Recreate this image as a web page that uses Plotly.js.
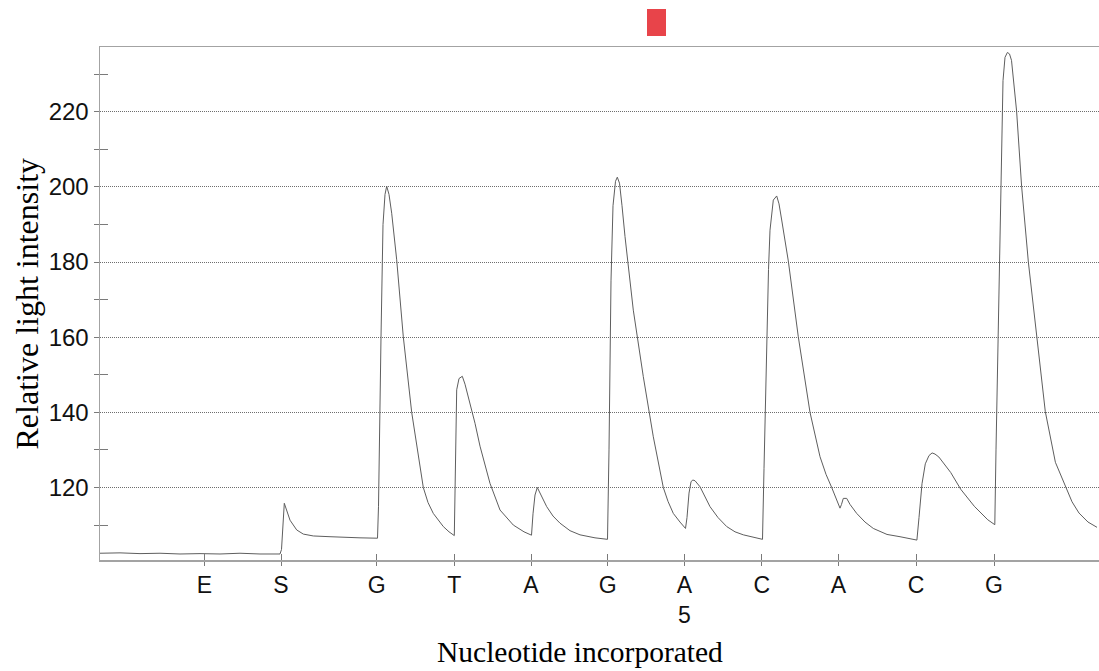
<!DOCTYPE html>
<html>
<head>
<meta charset="utf-8">
<script src="https://cdn.plot.ly/plotly-3.0.1.min.js"></script>
<style>
  html, body { margin: 0; padding: 0; background: #ffffff; }
  #chart { width: 1099px; height: 671px; }
</style>
</head>
<body>
<div id="chart"></div>
<script>
// Pyrogram: light signal recorded over the run, one peak per dispensed nucleotide.

// Run time (arbitrary units) of each recorded sample
const runTime = [
  0, 20, 40, 60, 80, 100, 120, 140, 160, 180,
  181.5, 184.3, 190, 196.7, 203.3, 213.3, 230, 243.3, 260, 277.5,
  278.5, 281, 283, 285, 286.7, 289, 291.7, 296.7, 303.3, 311.7, 318.3, 323.3, 328, 333.3, 343.3, 349, 354.3,
  355.5, 356.7, 359, 362.3, 365, 368.3, 375, 380, 390, 400, 413.3, 424, 431.5,
  433, 435, 437.3, 440, 446.7, 453, 460, 470, 480, 495, 507.5,
  509, 511, 513, 515.5, 517.3, 519.5, 522, 525, 533.3, 543.3, 553.3, 563.3, 568, 573.3, 580, 585.5,
  587, 589, 591, 592.7, 595, 600, 610, 618, 626.7, 635, 643.3, 653, 662.5,
  664, 666.7, 668.5, 670, 673.3, 676.7, 679, 681.7, 688.3, 698.3, 710, 720, 726, 731.7, 736, 740, 741.5, 743.3, 746.7, 750, 756.7, 765, 773.3, 787, 800, 810, 816.9,
  819, 822, 825.3, 829, 832.1, 835, 838.9, 844, 850.7, 860.8, 874.3, 887.8, 894.8,
  896, 898, 900, 903, 905, 907.4, 909.5, 911.5, 916.6, 921.6, 928.4, 936.8, 945.3, 955.4, 965.5, 972, 979, 988, 997
];

// Relative light intensity at each sample
const intensity = [
  102.5, 102.6, 102.4, 102.5, 102.3, 102.4, 102.3, 102.5, 102.3, 102.3,
  103.5, 115.8, 111.3, 108.7, 107.6, 107.1, 106.9, 106.7, 106.6, 106.5,
  115, 160, 190, 198, 200.2, 198, 193, 180.6, 160.1, 140, 128.2, 120, 116, 113.1, 109.6, 108.2, 107.2,
  125, 146, 149, 149.6, 147.5, 144.2, 137.1, 131, 121.1, 114, 110, 108.2, 107.3,
  113, 118, 120, 118.5, 114.9, 112.4, 110.5, 108.5, 107.4, 106.6, 106.2,
  130, 175, 195, 201.5, 202.6, 201, 195, 186.8, 167.2, 149.5, 133.5, 120, 116.3, 113.1, 110.8, 109.1,
  112, 118.5, 121.5, 122, 121.8, 120.2, 114.9, 112, 109.6, 108.2, 107.4, 106.7, 106.2,
  125, 160, 178, 188.5, 196.5, 197.6, 195.5, 191.2, 180.3, 160.1, 140, 128.2, 123.5, 120, 117, 114.5, 115.5, 117.1, 117.1, 115.5, 113.1, 110.8, 109.1, 107.5, 106.9, 106.4, 106,
  112, 121, 126.3, 128.5, 129.2, 128.9, 128.1, 126.3, 124, 119.5, 115, 111.4, 110.1,
  130, 160, 194.2, 228.3, 234.5, 235.8, 235.4, 233.7, 220.2, 200.2, 179.9, 160, 140.2, 126.7, 120, 116.2, 113.2, 110.8, 109.4
];

// Dispensation order (E = enzyme, S = substrate) and the time of each dispensation
const dispensations = ['E', 'S', 'G', 'T', 'A', 'G', 'A<br>5', 'C', 'A', 'C', 'G'];
const dispensationTime = [104.3, 181, 276.7, 354.3, 431, 507.7, 584.3, 661.7, 738.3, 816, 894];

// Intensity tick values
const yMajorTicks = [120, 140, 160, 180, 200, 220];
const yMinorTicks = [110, 130, 150, 170, 190, 210, 230];

// Position flagged above the trace
const flaggedTime = 556.5;

const axisGrey = '#a3a3a3';
const tickGrey = '#7a7a7a';
const sansFont = '"Liberation Sans", Arial, sans-serif';
const serifFont = '"Liberation Serif", "Times New Roman", serif';

const traces = [
  {
    type: 'scatter',
    mode: 'lines',
    x: runTime,
    y: intensity,
    line: { color: '#5e5e5e', width: 1 },
    hoverinfo: 'x+y',
    showlegend: false
  },
  {
    // carries the overlay axes that draw the inner halves of the ticks
    type: 'scatter',
    mode: 'lines',
    x: [],
    y: [],
    xaxis: 'x2',
    yaxis: 'y2',
    showlegend: false,
    hoverinfo: 'skip'
  }
];

const xRange = [0, 999];
const yRange = [100.7, 237.25];

const layout = {
  width: 1099,
  height: 671,
  margin: { l: 100, r: 0, t: 47, b: 111 },
  paper_bgcolor: '#ffffff',
  plot_bgcolor: '#ffffff',
  showlegend: false,
  xaxis: {
    range: xRange,
    tickmode: 'array',
    tickvals: dispensationTime,
    ticktext: dispensations,
    ticks: 'outside',
    ticklen: 4,
    tickwidth: 1,
    tickcolor: tickGrey,
    showgrid: false,
    zeroline: false,
    showline: true,
    linecolor: axisGrey,
    linewidth: 1.5,
    mirror: true,
    tickfont: { family: sansFont, size: 23, color: '#111111' },
    fixedrange: true
  },
  yaxis: {
    range: yRange,
    tickmode: 'array',
    tickvals: yMajorTicks,
    ticks: 'outside',
    ticklen: 5,
    tickwidth: 1,
    tickcolor: tickGrey,
    minor: {
      tickmode: 'array',
      tickvals: yMinorTicks,
      ticks: 'outside',
      ticklen: 5,
      tickwidth: 1,
      tickcolor: tickGrey,
      showgrid: false
    },
    showgrid: true,
    gridcolor: '#6e6e6e',
    gridwidth: 1,
    griddash: '1px,1px',
    zeroline: false,
    showline: true,
    linecolor: axisGrey,
    linewidth: 1.5,
    tickfont: { family: sansFont, size: 24, color: '#111111' },
    fixedrange: true
  },
  xaxis2: {
    overlaying: 'x',
    anchor: 'y',
    range: xRange,
    tickmode: 'array',
    tickvals: dispensationTime,
    ticks: 'inside',
    ticklen: 6,
    tickwidth: 1,
    tickcolor: tickGrey,
    showticklabels: false,
    showgrid: false,
    zeroline: false,
    showline: false,
    fixedrange: true
  },
  yaxis2: {
    overlaying: 'y',
    anchor: 'x',
    side: 'left',
    range: yRange,
    tickmode: 'array',
    tickvals: yMinorTicks,
    ticks: 'inside',
    ticklen: 8,
    tickwidth: 1,
    tickcolor: tickGrey,
    showticklabels: false,
    showgrid: false,
    zeroline: false,
    showline: false,
    fixedrange: true
  },
  shapes: [
    {
      type: 'rect',
      xref: 'x',
      yref: 'paper',
      x0: flaggedTime - 9.5,
      x1: flaggedTime + 9.5,
      y0: 1.0214,
      y1: 1.0741,
      fillcolor: '#e8444a',
      line: { width: 0 },
      layer: 'above'
    }
  ],
  annotations: [
    {
      text: 'Relative light intensity',
      xref: 'paper',
      yref: 'paper',
      x: -0.0731,
      y: 0.5,
      xanchor: 'center',
      yanchor: 'middle',
      textangle: -90,
      showarrow: false,
      font: { family: serifFont, size: 32, color: '#000000' }
    },
    {
      text: 'Nucleotide incorporated',
      xref: 'paper',
      yref: 'paper',
      x: 0.4805,
      y: -0.1793,
      xanchor: 'center',
      yanchor: 'middle',
      showarrow: false,
      font: { family: serifFont, size: 29.5, color: '#000000' }
    }
  ]
};

Plotly.newPlot('chart', traces, layout, { staticPlot: true, displayModeBar: false });
</script>
</body>
</html>
